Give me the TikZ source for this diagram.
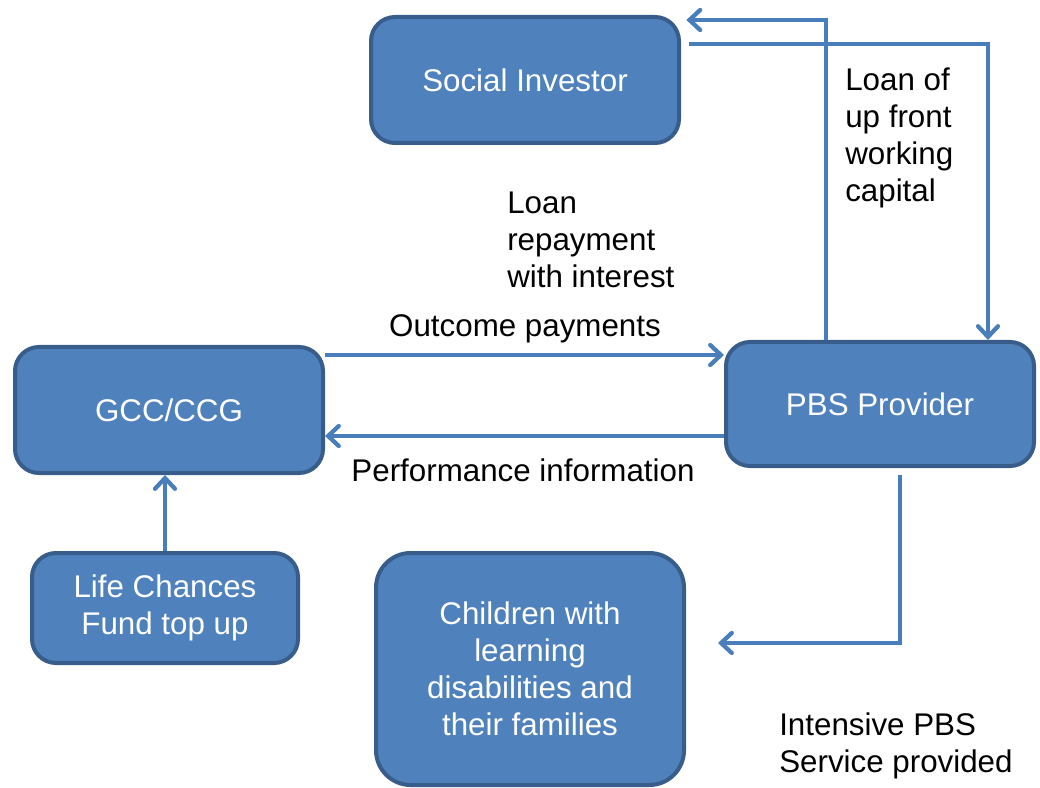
\documentclass[tikz,border=0pt]{standalone}
\usepackage{fontspec}
\setmainfont{Liberation Sans}
\usetikzlibrary{arrows.meta}
\definecolor{boxfill}{HTML}{4F81BD}
\definecolor{boxline}{HTML}{385D8A}
\definecolor{flowline}{HTML}{4A7EBB}

\begin{document}
\begin{tikzpicture}[x=0.75pt, y=-0.75pt,
  party/.style = {draw=boxline, fill=boxfill, line width=3pt, rounded corners=18pt,
    text=white, align=center, minimum width=231pt, minimum height=94.5pt,
    font=\fontsize{23.5}{27.75}\selectfont},
  flow/.style = {draw=flowline, line width=3.2pt, -{Straight Barb[length=8pt,width=15pt,line cap=round]}},
  lbl/.style = {align=left, anchor=west, inner sep=0pt, font=\fontsize{23.5}{27.75}\selectfont}]
\useasboundingbox (0,0) rectangle (1040,788);
\node[party] (inv) at (525,80) {Social Investor};
\node[party] (gcc) at (169,410) {GCC/CCG};
\node[party, minimum height=93pt] (pbs) at (880,404) {PBS Provider};
\node[party, minimum width=199.5pt, minimum height=82.5pt] (lcf) at (165,608) {Life Chances\\Fund top up};
\node[party, minimum height=174pt, rounded corners=26pt] (kids) at (530,669) {Children with\\learning\\disabilities and\\their families};
% bend points of the connectors
\coordinate (repay) at (826,20);
\coordinate (loan) at (988,44);
\coordinate (outc) at (0,355);
\coordinate (perf) at (0,436);
\coordinate (serv) at (900,643);
\coordinate (servtip) at (718,643);
\draw[flow] (pbs.north -| repay) |- ([xshift=4pt]inv.east |- repay);
\draw[flow] ([xshift=6pt]inv.east |- loan) -| (pbs.north -| loan);
\draw[flow] (gcc.east |- outc) -- (pbs.west |- outc);
\draw[flow] (pbs.west |- perf) -- (gcc.east |- perf);
\draw[flow] (lcf.north) -- (lcf.north |- gcc.south);
\draw[flow] ([yshift=-5pt]pbs.south -| serv) |- (servtip);
\node[lbl] (loanlbl) at (845,138) {Loan of\\up front\\working\\capital};
\node[lbl] (repaylbl) at (507,240) {Loan\\repayment\\with interest};
\node[lbl, anchor=center] (outclbl) at (525,329) {Outcome payments};
\node[lbl, anchor=center] (perflbl) at (523,470) {Performance information};
\node[lbl] (servlbl) at (779,746) {Intensive PBS\\Service provided};
\end{tikzpicture}
\end{document}
